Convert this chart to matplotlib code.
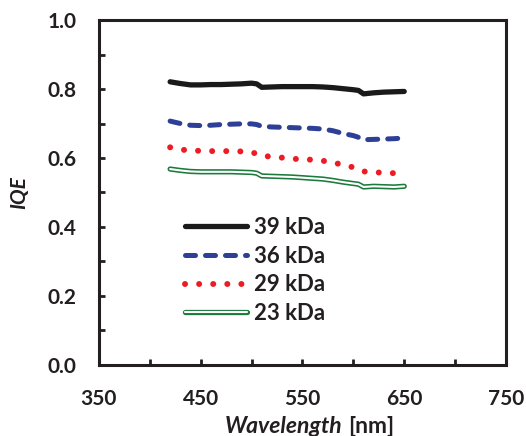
import matplotlib
matplotlib.use("Agg")
import matplotlib.pyplot as plt
from matplotlib.ticker import MultipleLocator, FixedLocator, FormatStrFormatter

# values
wavelength = [420, 430, 440, 450, 460, 470, 480, 490, 500, 505, 510, 520, 530,
              540, 550, 560, 570, 580, 590, 600, 605, 610, 620, 630, 640, 650]
iqe_39 = [0.821, 0.816, 0.812, 0.812, 0.813, 0.813, 0.814, 0.815, 0.817, 0.815, 0.805, 0.806, 0.807,
          0.807, 0.807, 0.807, 0.806, 0.804, 0.801, 0.798, 0.796, 0.786, 0.789, 0.791, 0.792, 0.793]
iqe_36 = [0.707, 0.700, 0.695, 0.694, 0.695, 0.697, 0.698, 0.699, 0.699, 0.697, 0.692, 0.690, 0.689,
          0.688, 0.687, 0.686, 0.684, 0.679, 0.671, 0.665, 0.660, 0.653, 0.654, 0.655, 0.656, 0.658]
iqe_29 = [0.631, 0.625, 0.621, 0.621, 0.620, 0.620, 0.620, 0.619, 0.617, 0.612, 0.606, 0.604, 0.601,
          0.598, 0.596, 0.595, 0.592, 0.587, 0.580, 0.573, 0.566, 0.561, 0.559, 0.557, 0.556, 0.555]
iqe_23 = [0.568, 0.564, 0.561, 0.560, 0.560, 0.560, 0.560, 0.559, 0.558, 0.556, 0.548, 0.547, 0.546,
          0.545, 0.543, 0.541, 0.539, 0.535, 0.530, 0.526, 0.524, 0.516, 0.518, 0.517, 0.516, 0.518]
labels = ["39 kDa", "36 kDa", "29 kDa", "23 kDa"]
xticks = [350, 450, 550, 650, 750]

ink = "#231f20"
plt.rcParams["font.family"] = ["Lato", "DejaVu Sans"]
plt.rcParams["font.weight"] = "bold"

fig = plt.figure(figsize=(5.26, 4.36), dpi=100)
ax = fig.add_axes([0.188, 0.163, 0.774, 0.791])

l39, = ax.plot(wavelength, iqe_39, color="#1a1a1a", lw=3.8, solid_capstyle="round")
l36, = ax.plot(wavelength, iqe_36, color="#2e3f97", lw=3.6, dashes=(2, 2),
               dash_capstyle="round")
l29, = ax.plot(wavelength, iqe_29, color="#ed1c24", lw=4.3, dashes=(0.01, 2.35),
               dash_capstyle="round")
# double line: green outline with white core
l23a, = ax.plot(wavelength, iqe_23, color="#1c7a3c", lw=3.8, solid_capstyle="round")
l23b, = ax.plot(wavelength, iqe_23, color="white", lw=1.5, solid_capstyle="round")

ax.set_xlim(350, 750)
ax.set_ylim(0, 1.0)
ax.xaxis.set_major_locator(FixedLocator(xticks))
ax.xaxis.set_minor_locator(MultipleLocator(50))
ax.yaxis.set_major_locator(MultipleLocator(0.2))
ax.yaxis.set_minor_locator(MultipleLocator(0.1))
ax.yaxis.set_major_formatter(FormatStrFormatter("%.1f"))
ax.tick_params(which="both", direction="in", length=4, width=2, color=ink,
               labelsize=15, labelcolor=ink)
ax.tick_params(axis="x", pad=17)
ax.tick_params(axis="y", pad=16)
for sp in ax.spines.values():
    sp.set_linewidth(2.2)
    sp.set_color(ink)

ax.set_ylabel("IQE", style="italic", fontweight="bold", fontsize=15, color=ink, labelpad=13)
fig.text(0.650, 0.008, "Wavelength", style="italic", fontweight="bold", fontsize=16.5,
         color=ink, ha="right", va="baseline")
fig.text(0.662, 0.008, "[nm]", fontweight="bold", fontsize=16.5, color=ink,
         ha="left", va="baseline")

ax.legend([l39, l36, l29, (l23a, l23b)], labels, loc="center left",
          bbox_to_anchor=(0.211, 0.274), frameon=False,
          prop={"size": 16, "weight": "bold"},
          handlelength=2.8, handletextpad=0.3, labelspacing=0.35,
          borderaxespad=0, borderpad=0, labelcolor=ink)

fig.savefig("out.png", dpi=100)
